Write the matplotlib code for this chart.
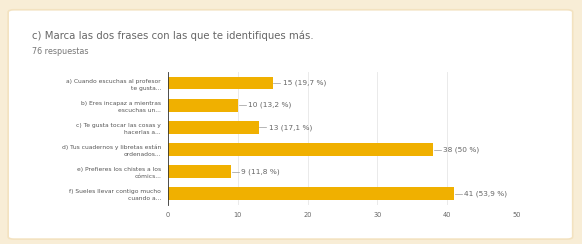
import matplotlib.pyplot as plt
from matplotlib.patches import FancyBboxPatch

# data
categories = ["a) Cuando escuchas al profesor\nte gusta...",
              "b) Eres incapaz a mientras\nescuchas un...",
              "c) Te gusta tocar las cosas y\nhacerlas a...",
              "d) Tus cuadernos y libretas están\nordenados...",
              "e) Prefieres los chistes a los\ncómics...",
              "f) Sueles llevar contigo mucho\ncuando a..."]
counts = [15, 10, 13, 38, 9, 41]
labels = ["15 (19,7 %)", "10 (13,2 %)", "13 (17,1 %)", "38 (50 %)", "9 (11,8 %)", "41 (53,9 %)"]
xticks = [0, 10, 20, 30, 40, 50]

fig = plt.figure(figsize=(5.82, 2.44), dpi=100)
fig.patch.set_facecolor('#f8edd6')

# white card behind everything
card = FancyBboxPatch((0.014, 0.02), 0.97, 0.94, boxstyle="round,pad=0,rounding_size=0.01",
                      transform=fig.transFigure, facecolor='white', edgecolor='#f3e2c0', lw=1.2,
                      zorder=-10)
fig.add_artist(card)

fig.text(0.055, 0.855, "c) Marca las dos frases con las que te identifiques más.",
         fontsize=7.3, color='#666666', va='center')
fig.text(0.055, 0.787, "76 respuestas", fontsize=5.8, color='#777777', va='center')

ax = fig.add_axes([0.2887, 0.16, 0.5997, 0.545])
ax.set_facecolor('none')
y = list(range(len(categories)))
ax.barh(y, counts, height=0.58, color='#f0b000', zorder=2)
for yi, c, lab in zip(y, counts, labels):
    ax.plot([c + 0.1, c + 1.1], [yi, yi], color='#999999', lw=0.5, zorder=3)
    ax.text(c + 1.4, yi, lab, fontsize=5.3, color='#666666', va='center')

ax.set_xlim(0, 50)
ax.set_ylim(len(categories) - 0.5, -0.5)
ax.set_yticks(y)
ax.set_yticklabels(categories, fontsize=4.3, color='#555555', ha='right', linespacing=1.5)
ax.set_xticks(xticks)
ax.set_xticklabels([str(t) for t in xticks], fontsize=4.8, color='#666666')
ax.tick_params(length=0, pad=5)
ax.grid(axis='x', color='#e6e6e6', lw=0.6, zorder=0)
for s in ['top', 'right', 'bottom']:
    ax.spines[s].set_visible(False)
ax.spines['left'].set_color('#333333')
ax.spines['left'].set_linewidth(0.6)

plt.savefig('out.png', dpi=100, facecolor=fig.get_facecolor())
